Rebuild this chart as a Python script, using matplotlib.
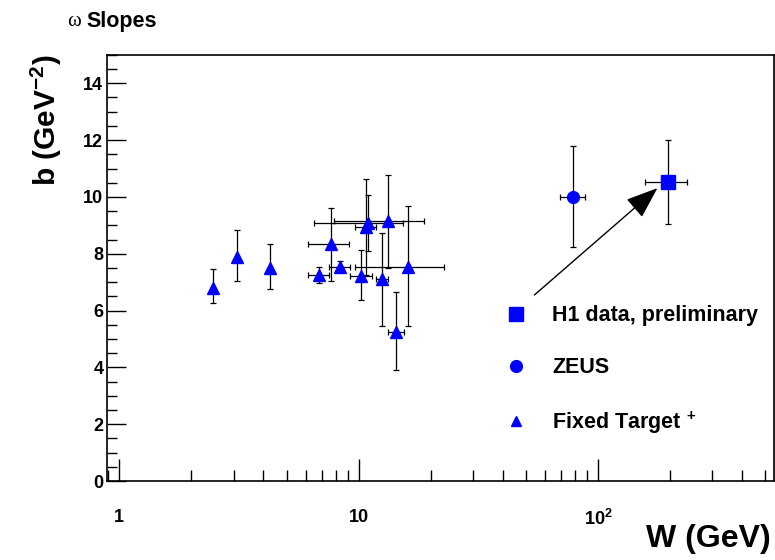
import numpy as np
import matplotlib
matplotlib.use("Agg")
import matplotlib.pyplot as plt
from matplotlib.lines import Line2D
from matplotlib.ticker import FixedLocator, FixedFormatter, MultipleLocator

# --- data ---
# Fixed target points
ft_w = [2.46, 3.09, 4.25, 6.82, 7.63, 8.35, 10.25, 10.76, 10.92, 12.50, 13.24, 14.35, 16.04]
ft_b = [6.80, 7.90, 7.50, 7.24, 8.33, 7.55, 7.23, 8.93, 9.07, 7.10, 9.17, 5.25, 7.55]
ft_b_lo = [6.27, 7.05, 6.76, 6.96, 7.05, 7.37, 6.36, 7.25, 8.10, 5.47, 7.49, 3.91, 5.46]
ft_b_hi = [7.45, 8.83, 8.35, 7.55, 9.62, 7.76, 8.13, 10.62, 10.07, 8.74, 10.77, 6.64, 9.69]
# horizontal bins (nan = no horizontal error bar)
ft_w_lo = [np.nan, np.nan, np.nan, 6.14, 6.14, 7.51, 9.16, 9.61, 6.50, 11.80, 7.88, 13.27, 9.61]
ft_w_hi = [np.nan, np.nan, np.nan, 7.54, 9.14, 9.19, 11.35, 11.84, 15.29, 13.27, 18.66, 15.39, 22.66]

# ZEUS
zeus_w, zeus_b = [78.8], [10.0]
zeus_w_lo, zeus_w_hi = [69.6], [88.5]
zeus_b_lo, zeus_b_hi = [8.25], [11.8]

# H1 preliminary
h1_w, h1_b = [196.0], [10.52]
h1_w_lo, h1_w_hi = [157.0], [236.0]
h1_b_lo, h1_b_hi = [9.04], [12.0]

# arrow pointing to the H1 point
arrow_from = (54.2, 6.55)
arrow_to = (177.0, 10.31)

x_ticks = [1, 10, 100]
x_ticklabels = ["1", "10", r"$\mathbf{10^{2}}$"]
legend_labels = ["H1 data, preliminary", "ZEUS", "Fixed Target $^{\\mathbf{+}}$"]

# --- style ---
plt.rcParams["font.family"] = ["Liberation Sans", "DejaVu Sans"]
plt.rcParams["font.weight"] = "bold"
plt.rcParams["mathtext.fontset"] = "custom"
plt.rcParams["mathtext.rm"] = "Liberation Sans:bold"
plt.rcParams["mathtext.bf"] = "Liberation Sans:bold"
plt.rcParams["mathtext.default"] = "bf"

blue = "#0000ff"


def asym(center, lo, hi):
    c = np.asarray(center, float)
    return np.vstack([c - np.asarray(lo, float), np.asarray(hi, float) - c])


fig = plt.figure(figsize=(7.75, 5.6), dpi=100)
ax = fig.add_axes([0.1387, 0.141, 0.8595, 0.761])

ebkw = dict(fmt="none", ecolor="black", elinewidth=0.9, capsize=2.5, capthick=0.9, zorder=2)

# fixed target
ft_w_arr = np.asarray(ft_w)
has_x = ~np.isnan(np.asarray(ft_w_lo))
ax.errorbar(ft_w_arr[has_x], np.asarray(ft_b)[has_x],
            xerr=asym(ft_w_arr[has_x], np.asarray(ft_w_lo)[has_x], np.asarray(ft_w_hi)[has_x]), **ebkw)
ax.errorbar(ft_w, ft_b, yerr=asym(ft_b, ft_b_lo, ft_b_hi), **ebkw)
ax.plot(ft_w, ft_b, linestyle="none", marker="^", ms=8.5, color=blue, mec=blue, zorder=3)

# ZEUS
ax.errorbar(zeus_w, zeus_b, xerr=asym(zeus_w, zeus_w_lo, zeus_w_hi),
            yerr=asym(zeus_b, zeus_b_lo, zeus_b_hi), **ebkw)
ax.plot(zeus_w, zeus_b, linestyle="none", marker="o", ms=8.5, color=blue, mec=blue, zorder=3)

# H1
ax.errorbar(h1_w, h1_b, xerr=asym(h1_w, h1_w_lo, h1_w_hi),
            yerr=asym(h1_b, h1_b_lo, h1_b_hi), **ebkw)
ax.plot(h1_w, h1_b, linestyle="none", marker="s", ms=9.5, color=blue, mec=blue, zorder=3)

ax.annotate("", xy=arrow_to, xytext=arrow_from,
            arrowprops=dict(arrowstyle="-|>,head_length=0.8,head_width=0.3", color="black",
                            lw=1.0, mutation_scale=25, shrinkA=0, shrinkB=0))

# axes
ax.set_xscale("log")
ax.set_xlim(0.892, 541)
ax.set_ylim(0, 15)
ax.xaxis.set_major_locator(FixedLocator(x_ticks))
ax.xaxis.set_major_formatter(FixedFormatter(x_ticklabels))
ax.yaxis.set_major_locator(MultipleLocator(2))
ax.yaxis.set_minor_locator(MultipleLocator(0.5))
ax.tick_params(axis="both", which="both", direction="in", top=False, right=False)
ax.tick_params(axis="x", which="major", length=16, width=1, labelsize=13, pad=20)
ax.tick_params(axis="x", which="minor", length=8, width=1)
ax.tick_params(axis="y", which="major", length=14, width=1, labelsize=13, pad=3)
ax.tick_params(axis="y", which="minor", length=7, width=1)
for lab in ax.get_xticklabels() + ax.get_yticklabels():
    lab.set_fontweight("bold")
for sp in ax.spines.values():
    sp.set_linewidth(1.2)

fig.text(0.995, 0.037, "W (GeV)", fontsize=23, fontweight="bold", ha="right", va="center")
ax.set_ylabel("b (GeV$^{-2}$)", loc="top", fontsize=21.5, fontweight="bold", labelpad=14)

# legend
handles = [
    Line2D([], [], linestyle="none", marker="s", ms=9.5, color=blue),
    Line2D([], [], linestyle="none", marker="o", ms=8.5, color=blue),
    Line2D([], [], linestyle="none", marker="^", ms=6.5, color=blue),
]
leg = ax.legend(handles, legend_labels, loc="upper left", bbox_to_anchor=(0.597, 0.413),
                frameon=False, fontsize=15.5, handlelength=1.0, handletextpad=1.19,
                labelspacing=1.44, borderpad=0, borderaxespad=0)
for t in leg.get_texts():
    t.set_fontweight("bold")

# title
fig.text(0.086, 0.962, "\u03c9", family=["Liberation Serif", "DejaVu Serif"],
         fontweight="normal", fontsize=15, ha="left", va="center")
fig.text(0.112, 0.962, "Slopes", fontsize=15.5, fontweight="bold", ha="left", va="center")

fig.savefig("out.png", dpi=100)
